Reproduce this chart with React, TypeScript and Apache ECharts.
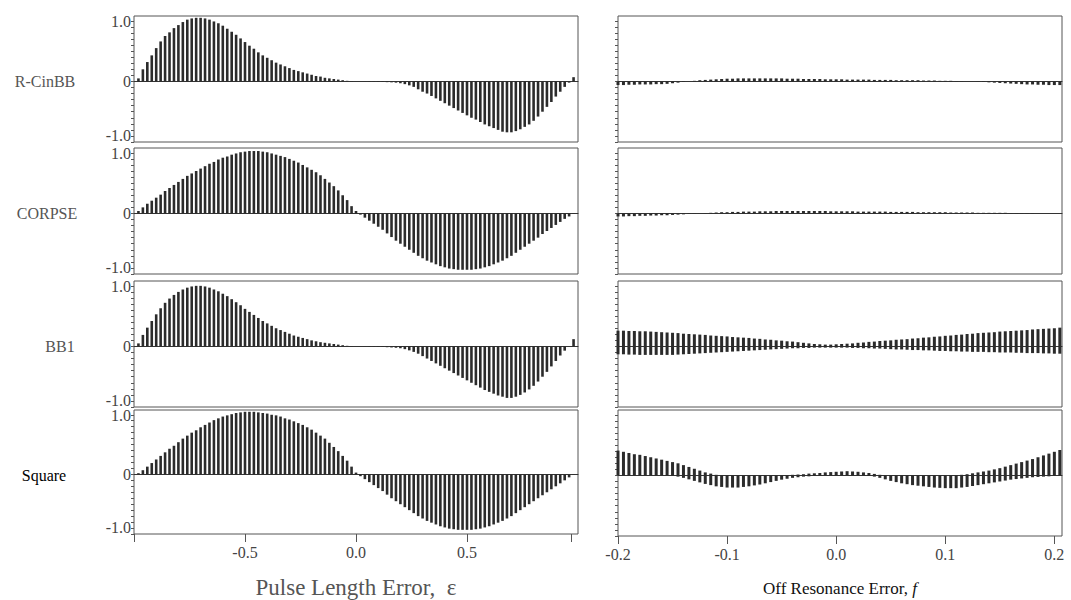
import { useEffect, useRef } from "react";
import * as echarts from "echarts";

// ---------- data ----------
const LEFT_X = [
  -0.98, -0.96, -0.94, -0.92, -0.9, -0.88, -0.86, -0.84, -0.82, -0.8,
  -0.78, -0.76, -0.74, -0.72, -0.7, -0.68, -0.66, -0.64, -0.62, -0.6,
  -0.58, -0.56, -0.54, -0.52, -0.5, -0.48, -0.46, -0.44, -0.42, -0.4,
  -0.38, -0.36, -0.34, -0.32, -0.3, -0.28, -0.26, -0.24, -0.22, -0.2,
  -0.18, -0.16, -0.14, -0.12, -0.1, -0.08, -0.06, -0.04, -0.02, 0,
  0.02, 0.04, 0.06, 0.08, 0.1, 0.12, 0.14, 0.16, 0.18, 0.2,
  0.22, 0.24, 0.26, 0.28, 0.3, 0.32, 0.34, 0.36, 0.38, 0.4,
  0.42, 0.44, 0.46, 0.48, 0.5, 0.52, 0.54, 0.56, 0.58, 0.6,
  0.62, 0.64, 0.66, 0.68, 0.7, 0.72, 0.74, 0.76, 0.78, 0.8,
  0.82, 0.84, 0.86, 0.88, 0.9, 0.92, 0.94, 0.96, 0.98,
];

const RIGHT_X = [
  -0.2, -0.195, -0.19, -0.185, -0.18, -0.175, -0.17, -0.165, -0.16, -0.155,
  -0.15, -0.145, -0.14, -0.135, -0.13, -0.125, -0.12, -0.115, -0.11, -0.105,
  -0.1, -0.095, -0.09, -0.085, -0.08, -0.075, -0.07, -0.065, -0.06, -0.055,
  -0.05, -0.045, -0.04, -0.035, -0.03, -0.025, -0.02, -0.015, -0.01, -0.005,
  0, 0.005, 0.01, 0.015, 0.02, 0.025, 0.03, 0.035, 0.04, 0.045,
  0.05, 0.055, 0.06, 0.065, 0.07, 0.075, 0.08, 0.085, 0.09, 0.095,
  0.1, 0.105, 0.11, 0.115, 0.12, 0.125, 0.13, 0.135, 0.14, 0.145,
  0.15, 0.155, 0.16, 0.165, 0.17, 0.175, 0.18, 0.185, 0.19, 0.195,
  0.2, 0.205,
];

const RCINBB_PULSE = [
  0.05, 0.2, 0.32, 0.43, 0.55, 0.66, 0.75, 0.81, 0.88, 0.93,
  0.98, 1.02, 1.04, 1.05, 1.05, 1.04, 1.02, 0.99, 0.96, 0.92,
  0.87, 0.82, 0.77, 0.71, 0.65, 0.59, 0.54, 0.48, 0.43, 0.39,
  0.35, 0.31, 0.28, 0.25, 0.22, 0.19, 0.17, 0.15, 0.13, 0.11,
  0.09, 0.08, 0.06, 0.05, 0.04, 0.03, 0.02, 0.01, 0.005, 0,
  0, -0.002, -0.004, -0.006, -0.008, -0.01, -0.012, -0.015, -0.02, -0.03,
  -0.045, -0.065, -0.09, -0.13, -0.17, -0.2, -0.24, -0.28, -0.32, -0.36,
  -0.4, -0.44, -0.48, -0.52, -0.56, -0.6, -0.63, -0.67, -0.71, -0.74,
  -0.77, -0.8, -0.83, -0.84, -0.84, -0.82, -0.79, -0.75, -0.71, -0.65,
  -0.58, -0.5, -0.42, -0.34, -0.25, -0.17, -0.09, -0.02, 0.07,
];

const CORPSE_PULSE = [
  0.04, 0.1, 0.16, 0.21, 0.26, 0.31, 0.37, 0.42, 0.47, 0.52,
  0.57, 0.62, 0.66, 0.7, 0.74, 0.78, 0.82, 0.85, 0.89, 0.92,
  0.94, 0.97, 0.99, 1.01, 1.02, 1.03, 1.03, 1.03, 1.02, 1.01,
  0.99, 0.97, 0.95, 0.93, 0.9, 0.87, 0.84, 0.8, 0.76, 0.72,
  0.68, 0.63, 0.57, 0.51, 0.45, 0.38, 0.3, 0.22, 0.12, 0.04,
  -0.02, -0.07, -0.12, -0.17, -0.22, -0.27, -0.33, -0.39, -0.45, -0.5,
  -0.55, -0.6, -0.65, -0.7, -0.74, -0.78, -0.81, -0.84, -0.87, -0.89,
  -0.91, -0.92, -0.93, -0.93, -0.93, -0.93, -0.92, -0.91, -0.89, -0.87,
  -0.84, -0.81, -0.78, -0.74, -0.7, -0.65, -0.6, -0.55, -0.5, -0.45,
  -0.4, -0.34, -0.29, -0.24, -0.19, -0.14, -0.09, -0.05, -0.01,
];

const BB1_PULSE = [
  0.05, 0.19, 0.31, 0.42, 0.53, 0.63, 0.72, 0.79, 0.85, 0.9,
  0.94, 0.97, 0.99, 1.0, 1.0, 0.99, 0.97, 0.94, 0.91, 0.87,
  0.83, 0.78, 0.73, 0.68, 0.62, 0.57, 0.52, 0.47, 0.42, 0.38,
  0.34, 0.3, 0.27, 0.24, 0.21, 0.18, 0.16, 0.14, 0.12, 0.1,
  0.085, 0.07, 0.06, 0.05, 0.04, 0.03, 0.02, 0.01, 0.005, 0,
  0, -0.002, -0.004, -0.006, -0.008, -0.01, -0.013, -0.017, -0.022, -0.03,
  -0.045, -0.065, -0.09, -0.12, -0.16, -0.2, -0.24, -0.28, -0.32, -0.36,
  -0.4, -0.44, -0.48, -0.52, -0.56, -0.6, -0.64, -0.68, -0.72, -0.75,
  -0.78, -0.81, -0.83, -0.85, -0.85, -0.83, -0.8, -0.76, -0.71, -0.65,
  -0.58, -0.5, -0.42, -0.33, -0.24, -0.15, -0.07, 0.0, 0.12,
];

const SQUARE_PULSE = [
  0.02, 0.07, 0.13, 0.19, 0.25, 0.31, 0.37, 0.43, 0.48, 0.54,
  0.6, 0.65, 0.7, 0.74, 0.79, 0.83, 0.87, 0.91, 0.94, 0.97,
  0.99, 1.01, 1.03, 1.04, 1.05, 1.05, 1.05, 1.04, 1.03, 1.02,
  1.0, 0.99, 0.97, 0.94, 0.92, 0.89, 0.86, 0.83, 0.79, 0.75,
  0.7, 0.65, 0.6, 0.53, 0.46, 0.39, 0.31, 0.23, 0.13, 0.03,
  -0.03, -0.08, -0.13, -0.18, -0.23, -0.28, -0.34, -0.4, -0.45, -0.5,
  -0.55, -0.6, -0.65, -0.7, -0.74, -0.78, -0.81, -0.84, -0.87, -0.89,
  -0.91, -0.92, -0.93, -0.93, -0.93, -0.93, -0.92, -0.91, -0.89, -0.87,
  -0.84, -0.81, -0.78, -0.74, -0.7, -0.65, -0.6, -0.55, -0.5, -0.45,
  -0.4, -0.35, -0.3, -0.25, -0.2, -0.15, -0.1, -0.05, -0.01,
];

const RCINBB_OFF = [
  -0.06, -0.06, -0.055, -0.055, -0.05, -0.05, -0.05, -0.045, -0.045,
  -0.04, -0.03, -0.02, -0.01, 0.0, 0.01,
  0.02, 0.025, 0.03, 0.035, 0.04, 0.045,
  0.045, 0.05, 0.05, 0.05, 0.05, 0.05, 0.05, 0.05, 0.05, 0.05,
  0.045, 0.045, 0.045, 0.04, 0.04, 0.04, 0.04, 0.035, 0.035, 0.035,
  0.035, 0.03, 0.03, 0.03, 0.03, 0.03, 0.025, 0.025, 0.025, 0.025,
  0.02, 0.02, 0.02, 0.02, 0.02, 0.015, 0.015, 0.015, 0.01, 0.01,
  0.01, 0.005, 0.005, 0, 0, -0.005, -0.01, -0.015, -0.02, -0.025,
  -0.03, -0.035, -0.04, -0.045, -0.05, -0.05, -0.055, -0.055, -0.06, -0.06, -0.06,
];

const CORPSE_OFF = [
  -0.05, -0.05, -0.045, -0.045, -0.04, -0.04, -0.035, -0.035, -0.03,
  -0.03, -0.025, -0.02, -0.015, -0.01, -0.005,
  0, 0.005, 0.01, 0.015, 0.02, 0.02,
  0.025, 0.025, 0.03, 0.03, 0.03, 0.035, 0.035, 0.035, 0.04, 0.04,
  0.04, 0.04, 0.04, 0.04, 0.04, 0.04, 0.04, 0.04, 0.035, 0.035,
  0.035, 0.035, 0.035, 0.03, 0.03, 0.03, 0.03, 0.03, 0.03, 0.025,
  0.025, 0.025, 0.025, 0.025, 0.02, 0.02, 0.02, 0.02, 0.02, 0.02,
  0.015, 0.015, 0.015, 0.015, 0.015, 0.01, 0.01, 0.01, 0.01, 0.01,
  0.01, 0.005, 0.005, 0.005, 0.005, 0.005, 0, 0, 0, 0, 0,
];

const BB1_OFF_HI = [
  0.26, 0.26, 0.255, 0.255, 0.25, 0.25, 0.245, 0.24, 0.235, 0.23,
  0.225, 0.22, 0.21, 0.205, 0.2, 0.195, 0.19, 0.18, 0.175, 0.17,
  0.165, 0.155, 0.15, 0.145, 0.14, 0.13, 0.125, 0.115, 0.11, 0.1,
  0.095, 0.085, 0.08, 0.07, 0.06, 0.05, 0.04, 0.035, 0.03, 0.03,
  0.035, 0.04, 0.045, 0.05, 0.06, 0.065, 0.075, 0.08, 0.09, 0.095,
  0.1, 0.11, 0.115, 0.12, 0.13, 0.135, 0.145, 0.15, 0.16, 0.165,
  0.175, 0.18, 0.19, 0.195, 0.205, 0.21, 0.22, 0.225, 0.23, 0.235,
  0.245, 0.25, 0.255, 0.26, 0.265, 0.27, 0.28, 0.285, 0.29, 0.295,
  0.3, 0.31,
];

const BB1_OFF_LO = [
  -0.13, -0.13, -0.135, -0.135, -0.14, -0.14, -0.14, -0.14, -0.14, -0.14, -0.14,
  -0.135, -0.13, -0.125, -0.12, -0.115, -0.11, -0.105, -0.1, -0.095, -0.09,
  -0.085, -0.08, -0.075, -0.07, -0.065, -0.06, -0.055, -0.05, -0.045, -0.04,
  -0.035, -0.03, -0.03, -0.025, -0.025, -0.02, -0.02, -0.02, -0.02, -0.02,
  -0.02, -0.02, -0.025, -0.025, -0.03, -0.03, -0.035, -0.035, -0.04, -0.045,
  -0.05, -0.05, -0.055, -0.06, -0.06, -0.065, -0.065, -0.07, -0.075, -0.075,
  -0.08, -0.08, -0.085, -0.085, -0.09, -0.09, -0.09, -0.095, -0.095, -0.1,
  -0.1, -0.1, -0.105, -0.105, -0.11, -0.11, -0.11, -0.115, -0.115, -0.12, -0.12,
];

const SQUARE_OFF_HI = [
  0.41, 0.39, 0.37, 0.35, 0.34, 0.32, 0.3, 0.28, 0.26, 0.24,
  0.22, 0.2, 0.17, 0.14, 0.11, 0.08, 0.05, 0.03, 0.01, 0,
  0, 0, 0, 0, 0, 0, 0, 0, 0, 0,
  0, 0.005, 0.01, 0.015, 0.02, 0.03, 0.035, 0.04, 0.05, 0.055,
  0.06, 0.065, 0.07, 0.065, 0.06, 0.05, 0.04, 0.025, 0.01, 0,
  0, 0, 0, 0, 0, 0, 0, 0, 0, 0,
  0, 0, 0.005, 0.01, 0.02, 0.035, 0.05, 0.065, 0.08, 0.1,
  0.12, 0.145, 0.17, 0.195, 0.22, 0.245, 0.27, 0.3, 0.33, 0.36,
  0.39, 0.42,
];

const SQUARE_OFF_LO = [
  0, 0, 0, 0, 0, 0, 0, 0, 0, 0,
  -0.01, -0.02, -0.04, -0.065, -0.09, -0.115, -0.14, -0.16, -0.18, -0.19,
  -0.2, -0.2, -0.2, -0.19, -0.18, -0.165, -0.15, -0.13, -0.11, -0.09,
  -0.07, -0.055, -0.04, -0.03, -0.02, -0.015, -0.01, -0.005, 0, 0,
  0, 0, 0, 0, 0, 0, -0.01, -0.02, -0.04, -0.065,
  -0.09, -0.11, -0.13, -0.145, -0.16, -0.17, -0.18, -0.19, -0.2, -0.205,
  -0.21, -0.21, -0.21, -0.2, -0.19, -0.175, -0.16, -0.145, -0.13, -0.115,
  -0.1, -0.085, -0.07, -0.06, -0.05, -0.04, -0.03, -0.025, -0.02, -0.015,
  -0.01, -0.005,
];

const ROW_NAMES = ["R-CinBB", "CORPSE", "BB1", "Square"];
const PULSE_SERIES = [RCINBB_PULSE, CORPSE_PULSE, BB1_PULSE, SQUARE_PULSE];
const OFF_SERIES: number[][][] = [
  [RCINBB_OFF],
  [CORPSE_OFF],
  [BB1_OFF_HI, BB1_OFF_LO],
  [SQUARE_OFF_HI, SQUARE_OFF_LO],
];
const LEFT_TICKS = [-1, -0.5, 0, 0.5, 0.97];
const LEFT_LABELS = [-0.5, 0, 0.5];
const RIGHT_TICKS = [-0.2, -0.1, 0, 0.1, 0.2];
const Y_TICKS = [
  -1, -0.9, -0.8, -0.7, -0.6, -0.5, -0.4, -0.3, -0.2, -0.1, 0,
  0.1, 0.2, 0.3, 0.4, 0.5, 0.6, 0.7, 0.8, 0.9, 1,
];
const Y_LABELS = [-1, 0, 1];
const X_TITLE_LEFT = "Pulse Length Error,  \u03b5";
const X_TITLE_RIGHT = "Off Resonance Error, ";

// ---------- layout / style ----------
const SERIF = '"Liberation Serif", "Times New Roman", serif';
const ROW_TOPS = [16, 148, 281, 410];
const ROW_H = 126;
const Y_MIN = -1;
const Y_MAX = 1.08;
const LEFT_L = 134;
const RIGHT_L = 618;
const PANEL_W = 444;
const STEM = "#2b2b2b";
const FRAME = "#555";
const LABEL_X = [45, 47, 60, 44];

function pairs(xs: number[], ys: number[]) {
  return xs.map((x, i) => [x, ys[i]]);
}

function buildOption() {
  const grid: any[] = [];
  const xAxis: any[] = [];
  const yAxis: any[] = [];
  const series: any[] = [];
  const graphic: any[] = [];

  for (let r = 0; r < 4; r++) {
    const bottom = r === 3;
    for (let c = 0; c < 2; c++) {
      const g = grid.length;
      const isLeft = c === 0;
      grid.push({
        left: isLeft ? LEFT_L : RIGHT_L,
        top: ROW_TOPS[r],
        width: PANEL_W,
        height: ROW_H,
        show: true,
        borderColor: FRAME,
        borderWidth: 1,
        backgroundColor: "transparent",
      });
      const xMin = isLeft ? -1 : -0.2;
      const xMax = isLeft ? 1 : 0.207;
      const xMain = xAxis.length;
      xAxis.push({
        type: "value",
        gridIndex: g,
        position: "bottom",
        min: xMin,
        max: xMax,
        axisLine: { show: false, onZero: false },
        splitLine: { show: false },
        axisTick: {
          show: bottom,
          length: 8,
          customValues: isLeft ? LEFT_TICKS : RIGHT_TICKS,
          lineStyle: { color: FRAME },
        },
        axisLabel: {
          show: bottom,
          customValues: isLeft ? LEFT_LABELS : RIGHT_TICKS,
          formatter: (v: number) => v.toFixed(1),
          fontFamily: SERIF,
          fontSize: 16,
          color: "#444",
          margin: 10,
        },
        name: bottom ? (isLeft ? X_TITLE_LEFT : "{a|" + X_TITLE_RIGHT + "}{b|f}") : "",
        nameLocation: "middle",
        nameGap: isLeft ? 42 : 44,
        nameTextStyle: isLeft
          ? { fontFamily: SERIF, fontSize: 23, color: "#555" }
          : {
              fontFamily: SERIF,
              fontSize: 17,
              color: "#111",
              rich: {
                a: { fontFamily: SERIF, fontSize: 17, color: "#111" },
                b: { fontFamily: SERIF, fontSize: 17, color: "#111", fontStyle: "italic" },
              },
            },
      });
      // zero axis: the horizontal line through y = 0
      xAxis.push({
        type: "value",
        gridIndex: g,
        position: "top",
        min: xMin,
        max: xMax,
        axisLine: { show: true, onZero: true, lineStyle: { color: "#333", width: 1 } },
        axisTick: { show: false },
        axisLabel: { show: false },
        splitLine: { show: false },
      });
      yAxis.push({
        type: "value",
        gridIndex: g,
        min: Y_MIN,
        max: Y_MAX,
        axisLine: { show: false, onZero: false },
        splitLine: { show: false },
        axisTick: { show: true, length: 3, customValues: Y_TICKS, lineStyle: { color: FRAME } },
        axisLabel: {
          show: isLeft,
          customValues: Y_LABELS,
          formatter: (v: number) =>
            Math.abs(v) < 1e-9
              ? "0"
              : v < 0
              ? "{lo|" + v.toFixed(1) + "}"
              : "{hi|" + v.toFixed(1) + "}",
          rich: {
            lo: { fontFamily: SERIF, fontSize: 16, color: "#444", padding: [0, 0, 14, 0] },
            hi: { fontFamily: SERIF, fontSize: 16, color: "#444", padding: [2, 0, 0, 0] },
          },
          fontFamily: SERIF,
          fontSize: 16,
          color: "#444",
          margin: 3,
        },
      });
      if (isLeft) {
        series.push({
          type: "bar",
          xAxisIndex: xMain,
          yAxisIndex: g,
          data: pairs(LEFT_X, PULSE_SERIES[r]),
          barWidth: 2.6,
          itemStyle: { color: STEM },
        });
      } else {
        OFF_SERIES[r].forEach((vals) => {
          series.push({
            type: "bar",
            xAxisIndex: xMain,
            yAxisIndex: g,
            data: pairs(RIGHT_X, vals),
            barWidth: 3,
            barGap: "-100%",
            itemStyle: { color: STEM },
          });
        });
      }
    }
    graphic.push({
      type: "text",
      x: LABEL_X[r],
      y: ROW_TOPS[r] + (ROW_H * Y_MAX) / (Y_MAX - Y_MIN),
      style: {
        text: ROW_NAMES[r],
        font: `16px ${SERIF}`,
        fill: r === 3 ? "#000" : "#555",
        align: "center",
        verticalAlign: "middle",
        textAlign: "center",
        textVerticalAlign: "middle",
      },
    });
  }

  return { animation: false, backgroundColor: "#fff", grid, xAxis, yAxis, series, graphic };
}

export default function App() {
  const ref = useRef<HTMLDivElement>(null);
  useEffect(() => {
    if (!ref.current) return;
    const chart = echarts.init(ref.current, undefined, { renderer: "svg" });
    chart.setOption(buildOption() as any);
    return () => chart.dispose();
  }, []);
  return (
    <div
      ref={ref}
      style={{ position: "fixed", left: 0, top: 0, width: "1071px", height: "600px" }}
    />
  );
}
